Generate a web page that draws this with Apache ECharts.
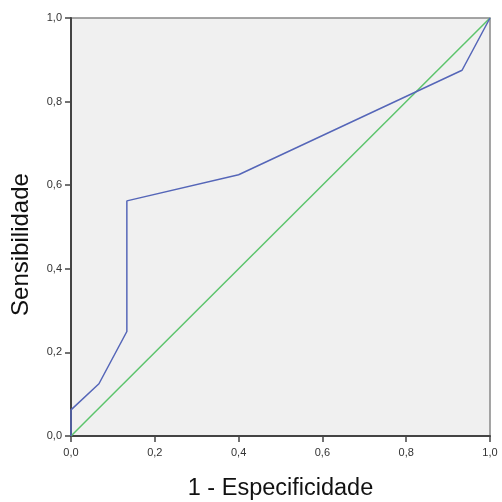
<!DOCTYPE html>
<html><head><meta charset="utf-8">
<script src="https://cdn.jsdelivr.net/npm/echarts@6/dist/echarts.min.js"></script>
<style>html,body{margin:0;padding:0;background:#fff}#c{width:502px;height:502px}</style>
</head><body><div id="c"></div>
<script>
var rocX = [0, 0, 0.0667, 0.1333, 0.1333, 0.4, 0.9333, 1];
var rocY = [0, 0.0625, 0.125, 0.25, 0.5625, 0.625, 0.875, 1];
var refX = [0, 1];
var refY = [0, 1];
var tickVals = [0, 0.2, 0.4, 0.6, 0.8, 1.0];
var xName = '1 - Especificidade';
var yName = 'Sensibilidade';

function fmt(v){ return v.toFixed(1).replace('.', ','); }
function pairs(a,b){ return a.map(function(v,i){ return [v,b[i]]; }); }

var chart = echarts.init(document.getElementById('c'));
var FF = 'Liberation Sans, Arial, sans-serif';
var axisCommon = {
  type: 'value', min: 0, max: 1, interval: 0.2,
  axisLine: {show: true, lineStyle: {color: '#444', width: 2}},
  axisTick: {show: true, length: 6, lineStyle: {color: '#444', width: 1.5}},
  splitLine: {show: false}
};
chart.setOption({
  animation: false,
  grid: {left: 71, right: 12, top: 18, bottom: 66, containLabel: false, outerBoundsMode: 'none',
         show: true, backgroundColor: '#f0f0f0', borderColor: '#888', borderWidth: 1.5},
  xAxis: Object.assign({}, axisCommon, {
    name: xName, nameLocation: 'middle', nameGap: 41,
    nameTextStyle: {color: '#111', fontSize: 23.5, fontFamily: FF},
    axisLabel: {formatter: fmt, color: '#333', fontSize: 11, fontFamily: FF, margin: 11}
  }),
  yAxis: Object.assign({}, axisCommon, {
    name: yName, nameLocation: 'middle', nameGap: 38,
    nameTextStyle: {color: '#111', fontSize: 24, fontFamily: FF, padding: [0, 35, 0, 0]},
    axisLabel: {formatter: fmt, color: '#333', fontSize: 11, fontFamily: FF, margin: 9}
  }),
  series: [
    {type: 'line', data: pairs(refX, refY), symbol: 'none', lineStyle: {color: '#5cc46c', width: 1.5}},
    {type: 'line', data: pairs(rocX, rocY), symbol: 'none', lineStyle: {color: '#5566b8', width: 1.5}}
  ]
});
</script></body></html>
